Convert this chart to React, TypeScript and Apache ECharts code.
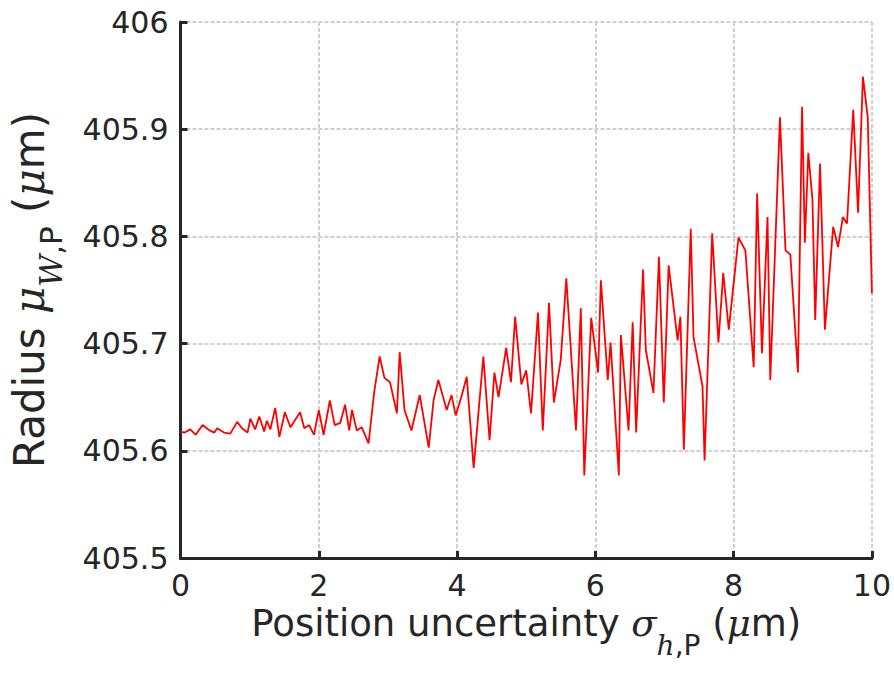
import React, { useEffect, useRef } from "react";
import * as echarts from "echarts";

const xValues = [
  0, 0.06, 0.14, 0.22, 0.32, 0.42, 0.49, 0.53, 0.63, 0.72, 0.82, 0.89, 0.97, 1.01, 1.08, 1.14, 1.21, 1.25, 1.3, 1.37,
  1.43, 1.51, 1.59, 1.73, 1.79, 1.86, 1.93, 2.0, 2.07, 2.16, 2.23, 2.31, 2.38, 2.44, 2.48, 2.55, 2.62, 2.72, 2.8, 2.88,
  2.95, 3.03, 3.13, 3.17, 3.24, 3.34, 3.46, 3.59, 3.66, 3.73, 3.85, 3.92, 3.98, 4.06, 4.14, 4.24, 4.38, 4.47, 4.54, 4.6,
  4.71, 4.78, 4.84, 4.93, 5.0, 5.07, 5.17, 5.24, 5.33, 5.4, 5.5, 5.58, 5.72, 5.79, 5.84, 5.94, 6.04, 6.08, 6.18, 6.22,
  6.34, 6.37, 6.48, 6.54, 6.59, 6.69, 6.73, 6.84, 6.92, 6.99, 7.06, 7.19, 7.23, 7.28, 7.38, 7.42, 7.55, 7.58, 7.69, 7.78,
  7.85, 7.93, 8.07, 8.17, 8.29, 8.34, 8.41, 8.49, 8.53, 8.67, 8.75, 8.82, 8.93, 8.99, 9.03, 9.08, 9.14, 9.18, 9.25, 9.32,
  9.44, 9.51, 9.58, 9.64, 9.73, 9.8, 9.87, 9.94, 10.0,
];

const yValues = [
  405.618, 405.617, 405.62, 405.615, 405.624, 405.619, 405.617, 405.621, 405.617, 405.616, 405.627, 405.621, 405.617,
  405.63, 405.62, 405.632, 405.618, 405.628, 405.62, 405.64, 405.613, 405.636, 405.622, 405.636, 405.621, 405.624,
  405.615, 405.638, 405.615, 405.647, 405.624, 405.626, 405.643, 405.619, 405.638, 405.619, 405.622, 405.607, 405.654,
  405.688, 405.668, 405.664, 405.635, 405.692, 405.638, 405.619, 405.652, 405.603, 405.647, 405.666, 405.638, 405.652,
  405.633, 405.65, 405.669, 405.584, 405.688, 405.61, 405.673, 405.65, 405.696, 405.664, 405.725, 405.662, 405.675,
  405.635, 405.729, 405.619, 405.738, 405.645, 405.685, 405.761, 405.619, 405.733, 405.577, 405.724, 405.673, 405.759,
  405.666, 405.701, 405.577, 405.708, 405.619, 405.72, 405.617, 405.769, 405.694, 405.654, 405.781, 405.645, 405.773,
  405.703, 405.725, 405.601, 405.807, 405.706, 405.66, 405.591, 405.803, 405.701, 405.766, 405.713, 405.799, 405.787,
  405.678, 405.84, 405.691, 405.818, 405.666, 405.911, 405.787, 405.783, 405.673, 405.921, 405.794, 405.878, 405.834,
  405.722, 405.868, 405.713, 405.809, 405.79, 405.818, 405.812, 405.918, 405.822, 405.949, 405.911, 405.747,
];

const xTicks = [0, 2, 4, 6, 8, 10];
const yTicks = [405.5, 405.6, 405.7, 405.8, 405.9, 406];

const FONT = "DejaVu Sans";
const TXT = "#262626";

function titleRich(size: number, subSize: number, pad: number) {
  return {
    n: { fontSize: size, fontFamily: FONT, color: TXT },
    i: { fontSize: size, fontFamily: "DejaVu Serif", fontStyle: "italic", color: TXT },
    s: { fontSize: subSize, fontFamily: "DejaVu Serif", fontStyle: "italic", color: TXT, padding: [pad, 0, 0, 0] },
    s2: { fontSize: subSize, fontFamily: FONT, color: TXT, padding: [pad, 0, 0, 0] },
  };
}

export default function App() {
  const ref = useRef<HTMLDivElement>(null);
  useEffect(() => {
    if (!ref.current) return;
    const chart = echarts.init(ref.current, undefined, { renderer: "svg" });
    const data = xValues.map((x, i) => [x, yValues[i]]);
    const axisCommon = {
      axisLine: { show: true, lineStyle: { color: TXT, width: 3 } },
      axisTick: { show: true, inside: true, length: 7, lineStyle: { color: TXT, width: 3 } },
      splitLine: { show: true, lineStyle: { color: "#d0d0d0", width: 2, type: [4, 2] } },
    };
    chart.setOption({
      animation: false,
      backgroundColor: "#ffffff",
      grid: { left: 178, right: 22, top: 22, bottom: 126, containLabel: false },
      xAxis: {
        type: "value",
        min: xTicks[0],
        max: xTicks[xTicks.length - 1],
        interval: 2,
        ...axisCommon,
        axisLabel: { fontSize: 30, fontFamily: FONT, color: TXT, margin: 12 },
        name: "{n|Position uncertainty }{i|σ}{s|h}{s2|,P}{n| (}{i|μ}{n|m)}",
        nameLocation: "middle",
        nameGap: 24,
        nameTextStyle: { rich: titleRich(37, 28, 44) },
      },
      yAxis: {
        type: "value",
        min: yTicks[0],
        max: yTicks[yTicks.length - 1],
        interval: 0.1,
        ...axisCommon,
        axisLabel: {
          fontSize: 30,
          fontFamily: FONT,
          color: TXT,
          margin: 12,
          formatter: (v: number) => String(+v.toFixed(1)),
        },
        name: "{n|Radius }{i|μ}{s|W}{s2|,P}{n| (}{i|μ}{n|m)}",
        nameLocation: "middle",
        nameRotate: 90,
        nameGap: 114,
        nameTextStyle: { rich: titleRich(42, 31, 44) },
      },
      series: [
        {
          type: "line",
          data,
          showSymbol: false,
          lineStyle: { color: "#ff0000", width: 1.8 },
          itemStyle: { color: "#ff0000" },
        },
      ],
    });
    return () => chart.dispose();
  }, []);
  return <div ref={ref} style={{ width: 894, height: 684, position: "absolute", left: 0, top: 0 }} />;
}
